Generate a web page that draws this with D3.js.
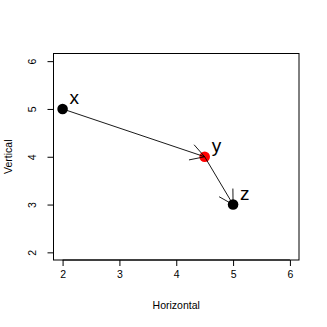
<!DOCTYPE html>
<html>
<head>
<meta charset="utf-8">
<script src="https://cdn.jsdelivr.net/npm/d3@7"></script>
<style>
  body { margin: 0; background: #fff; }
  text { font-family: "Liberation Sans", Arial, sans-serif; fill: #000; }
</style>
</head>
<body>
<svg id="chart"></svg>
<script>
// point data
const labels = ["x", "y", "z"];
const xValues = [2, 4.5, 5];
const yValues = [5, 4, 3];
const pointColors = ["black", "red", "black"];
// arrows go from point i to point i+1
const arrowFrom = [0, 1];
const arrowTo = [1, 2];
const xTicks = [2, 3, 4, 5, 6];
const yTicks = [2, 3, 4, 5, 6];

const width = 327, height = 327;
const margin = { top: 53.5, right: 28, bottom: 67, left: 53.5 };

const svg = d3.select("#chart")
  .attr("width", width)
  .attr("height", height);

// R-style 4% padding around 2..6
const xScale = d3.scaleLinear()
  .domain([1.84, 6.16])
  .range([margin.left, width - margin.right]);

const yScale = d3.scaleLinear()
  .domain([1.84, 6.16])
  .range([height - margin.bottom, margin.top]);

// plot box
svg.append("rect")
  .attr("x", margin.left)
  .attr("y", margin.top)
  .attr("width", width - margin.left - margin.right)
  .attr("height", height - margin.top - margin.bottom)
  .attr("fill", "none")
  .attr("stroke", "#000")
  .attr("stroke-width", 1);

// axes
const xAxis = svg.append("g")
  .attr("transform", `translate(0,${height - margin.bottom})`)
  .call(d3.axisBottom(xScale).tickValues(xTicks).tickFormat(d3.format("d"))
    .tickSize(6).tickPadding(8).tickSizeOuter(0));

const yAxis = svg.append("g")
  .attr("transform", `translate(${margin.left},0)`)
  .call(d3.axisLeft(yScale).tickValues(yTicks).tickFormat(d3.format("d"))
    .tickSize(6).tickPadding(8).tickSizeOuter(0));

// axis line only spans first to last tick
xAxis.select(".domain").attr("d", `M${xScale(2)},0H${xScale(6)}`);
yAxis.select(".domain").attr("d", `M0,${yScale(2)}V${yScale(6)}`);

svg.selectAll(".tick text")
  .style("font-size", "10.5px")
  .style("font-family", "Liberation Sans, Arial, sans-serif");

// x tick labels centred around y=281
xAxis.selectAll(".tick text")
  .attr("y", 14)
  .attr("dy", "0.35em");

// y tick labels rotated like R
yAxis.selectAll(".tick text")
  .attr("x", null)
  .attr("text-anchor", "middle")
  .attr("transform", "translate(-21,0) rotate(-90)")
  .attr("dy", "0.35em");

// axis titles
svg.append("text")
  .attr("x", (xScale(1.84) + xScale(6.16)) / 2)
  .attr("y", 305)
  .attr("text-anchor", "middle")
  .style("font-size", "10.5px")
  .attr("dy", "0.35em")
  .text("Horizontal");

svg.append("text")
  .attr("transform", `translate(8.5,${(yScale(1.84) + yScale(6.16)) / 2}) rotate(-90)`)
  .attr("text-anchor", "middle")
  .attr("dy", "0.35em")
  .style("font-size", "10.5px")
  .text("Vertical");

// points
svg.selectAll(".pt")
  .data(labels)
  .join("circle")
  .attr("class", "pt")
  .attr("cx", (d, i) => xScale(xValues[i]))
  .attr("cy", (d, i) => yScale(yValues[i]))
  .attr("r", 5.3)
  .attr("fill", (d, i) => pointColors[i]);

// arrows, drawn after the points
const headLen = 16, headAngle = Math.PI / 6;
arrowFrom.forEach((a, i) => {
  const b = arrowTo[i];
  const x0 = xScale(xValues[a]), y0 = yScale(yValues[a]);
  const x1 = xScale(xValues[b]), y1 = yScale(yValues[b]);
  const ang = Math.atan2(y1 - y0, x1 - x0);
  const g = svg.append("g").attr("stroke", "#000").attr("stroke-width", 0.9).attr("fill", "none");
  g.append("line").attr("x1", x0).attr("y1", y0).attr("x2", x1).attr("y2", y1);
  g.append("path")
    .attr("d", `M${x1 - headLen * Math.cos(ang - headAngle)},${y1 - headLen * Math.sin(ang - headAngle)}` +
               `L${x1},${y1}` +
               `L${x1 - headLen * Math.cos(ang + headAngle)},${y1 - headLen * Math.sin(ang + headAngle)}`);
});

// point labels
svg.selectAll(".lbl")
  .data(labels)
  .join("text")
  .attr("class", "lbl")
  .attr("x", (d, i) => xScale(xValues[i]) + 7)
  .attr("y", (d, i) => yScale(yValues[i]) - 5)
  .style("font-size", "19px")
  .text(d => d);
</script>
</body>
</html>
